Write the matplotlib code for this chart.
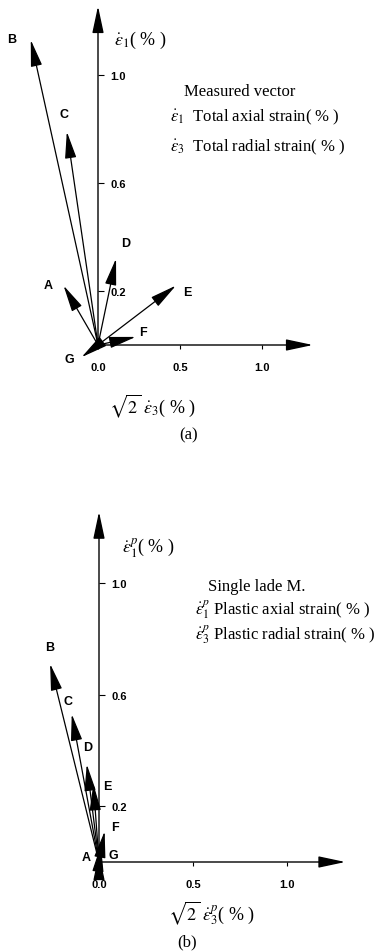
import matplotlib
matplotlib.use("Agg")
import matplotlib.pyplot as plt

plt.rcParams['mathtext.fontset'] = 'stix'

# strain increment vectors, (sqrt(2)*eps3, eps1) in %
names = ['A', 'B', 'C', 'D', 'E', 'F', 'G']
total_x = [-0.21, -0.41, -0.19, 0.11, 0.475, 0.23, -0.10]
total_y = [0.22, 1.13, 0.79, 0.32, 0.22, 0.03, -0.045]
plastic_x = [0.0, -0.26, -0.145, -0.065, -0.03, 0.03, 0.01]
plastic_y = [0.03, 0.71, 0.53, 0.35, 0.28, 0.11, 0.06]

# where the letters sit (data units)
total_lab = [(-0.305, 0.222), (-0.524, 1.133), (-0.207, 0.856), (0.171, 0.378),
             (0.543, 0.196), (0.274, 0.048), (-0.177, -0.052)]
plastic_lab = [(-0.069, 0.018), (-0.261, 0.771), (-0.165, 0.577), (-0.059, 0.412),
               (0.043, 0.272), (0.085, 0.125), (0.074, 0.025)]

xticks = [0.0, 0.5, 1.0]
yticks = [0.2, 0.6, 1.0]
axis_len = (1.31, 1.255)

W, H = 377, 953
fig = plt.figure(figsize=(W / 100, H / 100), dpi=100)

serif = 'Liberation Serif'
sans = 'Liberation Sans'
head = '-|>,head_length=1.5,head_width=0.32'


def make_panel(top, bottom, ox, oy, sx, sy):
    # axes covering pixel rows top..bottom, origin at pixel (ox, oy)
    ax = fig.add_axes([0, 1 - bottom / H, 1, (bottom - top) / H])
    ax.set_xlim((0 - ox) / sx, (W - ox) / sx)
    ax.set_ylim((oy - bottom) / sy, (oy - top) / sy)
    ax.spines['bottom'].set_position(('data', 0))
    ax.spines['right'].set_position(('data', 0))
    for s in ax.spines.values():
        s.set_visible(False)
    ax.patch.set_alpha(0)
    ax.yaxis.tick_right()
    ax.set_xticks(xticks)
    ax.set_xticklabels(['%.1f' % t for t in xticks], fontsize=8,
                       fontweight='bold', family=sans)
    ax.set_yticks(yticks)
    ax.set_yticklabels(['%.1f' % t for t in yticks], fontsize=8,
                       fontweight='bold', family=sans)
    ax.tick_params(axis='x', direction='out', length=3, width=0.8, pad=9)
    ax.tick_params(axis='y', direction='out', length=4, width=0.8, pad=5)
    # axes drawn as arrows
    for end in [(axis_len[0], 0), (0, axis_len[1])]:
        ax.annotate('', xy=end, xytext=(0, 0),
                    arrowprops=dict(arrowstyle=head, mutation_scale=11, lw=1.0,
                                    color='black', shrinkA=0, shrinkB=0))
    return ax


def draw_vectors(ax, xs, ys, labs):
    for n, x, y, (lx, ly) in zip(names, xs, ys, labs):
        ax.annotate('', xy=(x, y), xytext=(0, 0),
                    arrowprops=dict(arrowstyle=head, mutation_scale=11, lw=0.9,
                                    color='black', shrinkA=0, shrinkB=0))
        ax.text(lx, ly, n, fontsize=9, fontweight='bold', family=sans,
                ha='center', va='center')


# (a) measured total strain increments
ax1 = make_panel(0, 476, 98, 346, 164, 270)
draw_vectors(ax1, total_x, total_y, total_lab)
ax1.text(0.1, 1.13, r'$\dot{\varepsilon}_1$( % )', fontsize=13, family=serif,
         ha='left', va='center')
ax1.text(0.33, -0.225, r'$\sqrt{2}\ \dot{\varepsilon}_3$( % )', fontsize=13,
         family=serif, ha='center', va='center')
ax1.text(0.55, -0.33, '(a)', fontsize=12, family=serif, ha='center', va='center')
ax1.text(0.865, 0.94, 'Measured vector', fontsize=12, family=serif,
         ha='center', va='center')
ax1.text(0.44, 0.848, r'$\dot{\varepsilon}_1$  Total axial strain( % )', fontsize=12,
         family=serif, ha='left', va='center')
ax1.text(0.44, 0.737, r'$\dot{\varepsilon}_3$  Total radial strain( % )', fontsize=12,
         family=serif, ha='left', va='center')

# (b) plastic strain increments, single Lade model
ax2 = make_panel(476, 953, 99, 863, 188, 279)
draw_vectors(ax2, plastic_x, plastic_y, plastic_lab)
ax2.text(0.12, 1.13, r'$\dot{\varepsilon}_1^p$( % )', fontsize=13, family=serif,
         ha='left', va='center')
ax2.text(0.6, -0.18, r'$\sqrt{2}\ \dot{\varepsilon}_3^p$( % )', fontsize=13,
         family=serif, ha='center', va='center')
ax2.text(0.47, -0.285, '(b)', fontsize=12, family=serif, ha='center', va='center')
ax2.text(0.58, 0.99, 'Single lade M.', fontsize=12, family=serif,
         ha='left', va='center')
ax2.text(0.51, 0.91, r'$\dot{\varepsilon}_1^p$ Plastic axial strain( % )', fontsize=12,
         family=serif, ha='left', va='center')
ax2.text(0.51, 0.82, r'$\dot{\varepsilon}_3^p$ Plastic radial strain( % )', fontsize=12,
         family=serif, ha='left', va='center')

fig.savefig('out.png', dpi=100)
